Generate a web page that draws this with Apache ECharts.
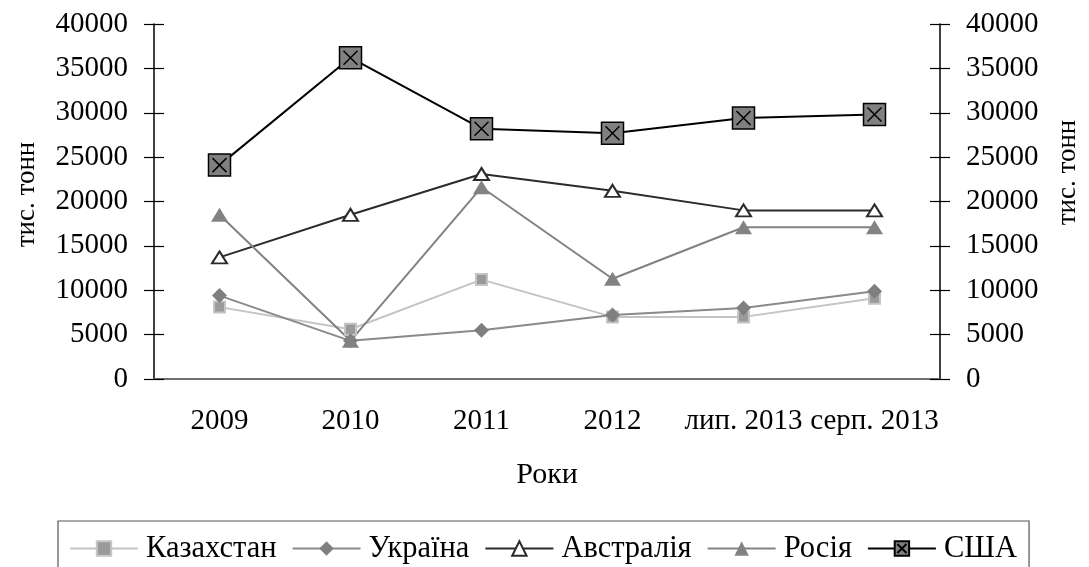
<!DOCTYPE html>
<html>
<head>
<meta charset="utf-8">
<script src="https://cdn.jsdelivr.net/npm/echarts@6/dist/echarts.min.js"></script>
<style>
  html, body { margin: 0; padding: 0; background: #fff; }
  #chart { width: 1089px; height: 567px; }
</style>
</head>
<body>
<div id="chart"></div>
<script>
// дані з діаграми (тис. тонн)
const categories = ['2009', '2010', '2011', '2012', 'лип. 2013', 'серп. 2013']
const kazakhstan = [8100, 5600, 11200, 7000, 7000, 9100]
const ukraine = [9400, 4300, 5500, 7200, 8000, 9900]
const australia = [13700, 18500, 23100, 21200, 19000, 19000]
const russia = [18500, 4300, 21600, 11300, 17100, 17100]
const usa = [24100, 36200, 28200, 27700, 29400, 29800]
const yTicks = { min: 0, max: 40000, step: 5000 }

const font = 'Liberation Serif'
const fs = 29

let myChart = echarts.init(document.getElementById('chart'))

function valueAxis (pos, main) {
  return {
    type: 'value',
    position: pos,
    min: yTicks.min,
    max: yTicks.max,
    interval: yTicks.step,
    name: main ? 'тис. тонн' : '',
    nameLocation: 'middle',
    nameGap: 114,
    nameRotate: 90,
    nameTextStyle: {
      color: '#000', fontFamily: font, fontSize: 27,
      padding: pos === 'left' ? [0, 0, 0, 14] : [0, 0, 0, 58]
    },
    axisLine: { show: main, lineStyle: { color: '#000', width: 1.5 } },
    axisTick: { show: true, inside: !main, length: 10, lineStyle: { color: '#000', width: 1.2 } },
    axisLabel: {
      show: main,
      margin: 26,
      color: '#000',
      fontFamily: font,
      fontSize: fs,
      formatter: v => String(v)
    },
    splitLine: { show: false }
  }
}

myChart.setOption({
  animation: false,
  grid: { left: 154, right: 140, top: 24, bottom: 188 },
  legend: {
    left: 58,
    top: 521,
    padding: [12, 12, 14, 11],
    borderColor: '#555',
    borderWidth: 1.2,
    itemWidth: 68,
    itemHeight: 18,
    itemGap: 15,
    textStyle: { color: '#000', fontFamily: font, fontSize: 30.5, padding: [0, 0, 0, 3] },
    data: ['Казахстан', 'Україна', 'Австралія', 'Росія', 'США']
  },
  xAxis: [
    {
      type: 'category',
      data: categories,
      position: 'bottom',
      boundaryGap: true,
      name: 'Роки',
      nameLocation: 'middle',
      nameGap: 81,
      nameTextStyle: { color: '#000', fontFamily: font, fontSize: 30 },
      axisLine: { lineStyle: { color: '#000', width: 1.5 } },
      axisTick: { length: 9, lineStyle: { color: '#000', width: 1.2 } },
      axisLabel: { interval: 0, margin: 28, color: '#000', fontFamily: font, fontSize: fs }
    },
    {
      type: 'category',
      data: categories,
      position: 'bottom',
      boundaryGap: true,
      axisLine: { show: false },
      axisTick: { inside: true, length: 9, lineStyle: { color: '#000', width: 1.2 } },
      axisLabel: { show: false }
    },
    {
      type: 'category',
      data: categories,
      position: 'top',
      axisLine: { lineStyle: { color: '#808080', width: 1.5 } },
      axisTick: { show: false },
      axisLabel: { show: false }
    }
  ],
  yAxis: [
    valueAxis('left', true),
    valueAxis('right', true),
    valueAxis('left', false),
    valueAxis('right', false)
  ],
  series: [
    {
      name: 'Казахстан',
      type: 'line',
      data: kazakhstan,
      symbol: 'rect',
      symbolSize: 11,
      lineStyle: { color: '#c4c4c4', width: 2 },
      itemStyle: { color: '#9a9a9a', borderColor: '#c4c4c4', borderWidth: 2 }
    },
    {
      name: 'Україна',
      type: 'line',
      data: ukraine,
      symbol: 'diamond',
      symbolSize: 15,
      lineStyle: { color: '#8a8a8a', width: 2 },
      itemStyle: { color: '#7f7f7f', borderWidth: 0 }
    },
    {
      name: 'Австралія',
      type: 'line',
      data: australia,
      symbol: 'triangle',
      symbolSize: [15, 12],
      lineStyle: { color: '#2b2b2b', width: 2 },
      itemStyle: { color: '#fff', borderColor: '#2b2b2b', borderWidth: 2 }
    },
    {
      name: 'Росія',
      type: 'line',
      data: russia,
      symbol: 'triangle',
      symbolSize: [17, 14],
      lineStyle: { color: '#828282', width: 2 },
      itemStyle: { color: '#828282', borderWidth: 0 }
    },
    {
      name: 'США',
      type: 'line',
      data: usa,
      symbol: 'path://M0,0H22V22H0Z M4,4L18,18 M18,4L4,18',
      symbolSize: 22,
      z: 5,
      lineStyle: { color: '#000', width: 2 },
      itemStyle: { color: '#808080', borderColor: '#000', borderWidth: 1.5 }
    }
  ]
})
</script>
</body>
</html>
